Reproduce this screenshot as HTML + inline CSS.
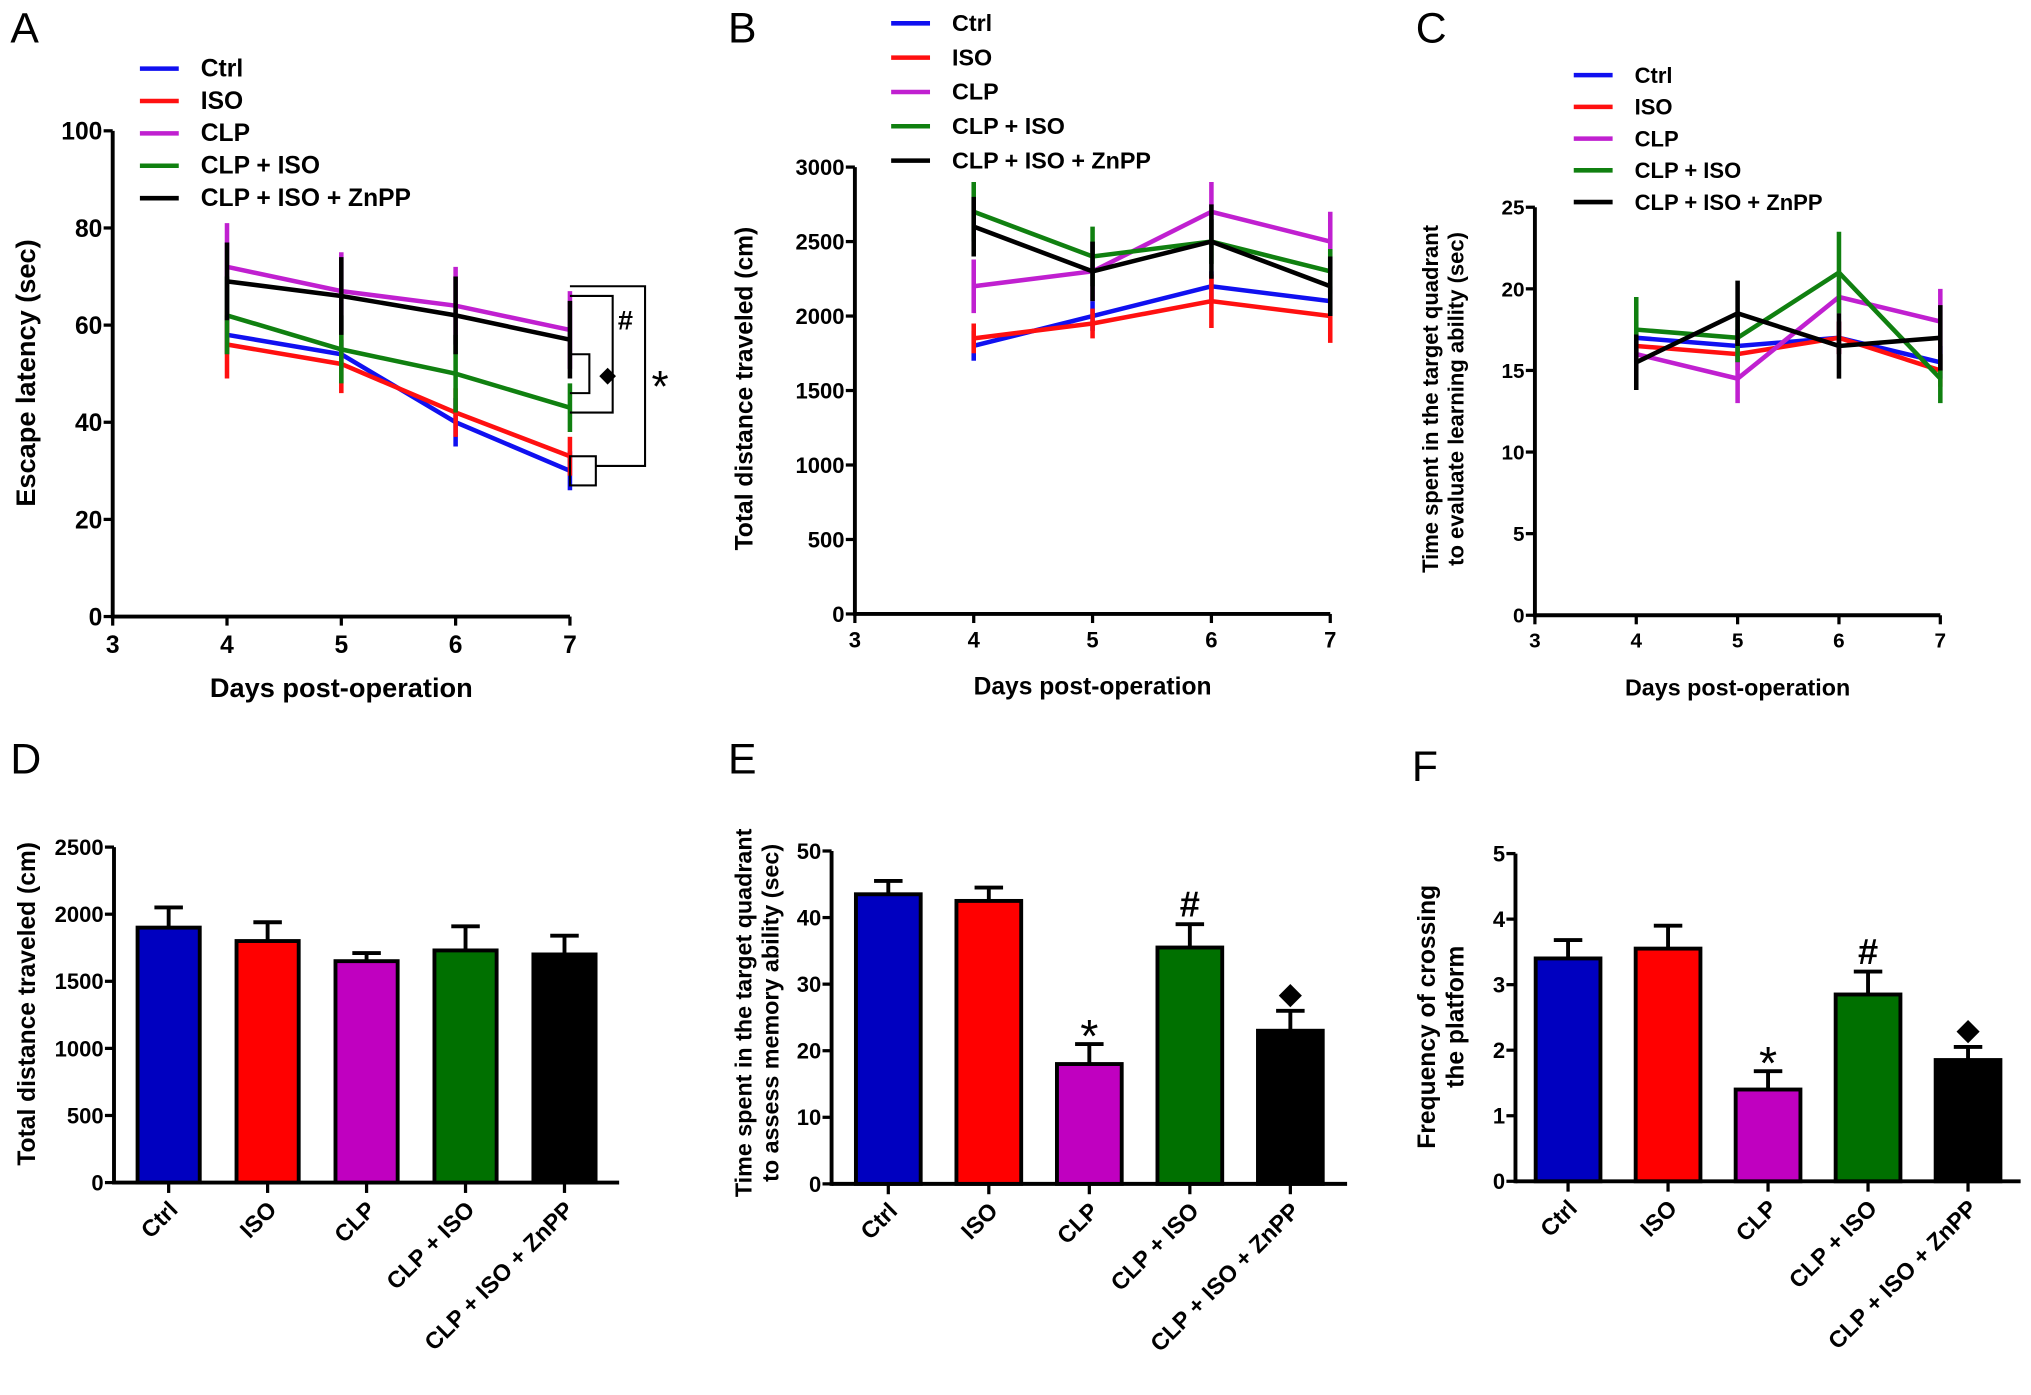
<!DOCTYPE html>
<html><head><meta charset="utf-8"><style>
html,body{margin:0;padding:0;background:#fff;}
svg{display:block;font-family:"Liberation Sans",Arial,sans-serif;font-weight:bold;}
</style></head><body>
<svg id="fig" width="2031" height="1395" viewBox="0 0 1568 1077" xmlns="http://www.w3.org/2000/svg"></svg>
<script>
const NS="http://www.w3.org/2000/svg";
const groups=["Ctrl","ISO","CLP","CLP + ISO","CLP + ISO + ZnPP"];
const lineColors=["#1010f0","#ff1010","#c020d0","#108010","#000000"];
const barColors=["#0000c0","#ff0000","#c000c0","#007000","#000000"];
const days=[4,5,6,7];
// Panel A
const aVals=[[58,54,40,30],[56,52,42,33],[72,67,64,59],[62,55,50,43],[69,66,62,57]];
const aErr=[[4,3,5,4],[7,6,5,4],[9,8,8,8],[8,7,8,5],[8,8,8,8]];
const aTicks=[0,20,40,60,80,100];
// Panel B
const bVals=[[1800,2000,2200,2100],[1850,1950,2100,2000],[2200,2300,2700,2500],[2700,2400,2500,2300],[2600,2300,2500,2200]];
const bErr=[[100,100,100,100],[100,100,180,180],[180,200,200,200],[200,200,150,150],[200,200,250,200]];
const bTicks=[0,500,1000,1500,2000,2500,3000];
// Panel C
const cVals=[[17,16.5,17,15.5],[16.5,16,17,15],[16,14.5,19.5,18],[17.5,17,21,14.5],[15.5,18.5,16.5,17]];
const cErr=[[1,1,1,1],[1,1,1,1],[1,1.5,1,2],[2,1.5,2.5,1.5],[1.7,2,2,2]];
const cTicks=[0,5,10,15,20,25];
const xTicks=[3,4,5,6,7];
// Panel D/E/F
const dVals=[1900,1800,1650,1730,1700];
const dErr=[150,140,60,180,140];
const dTicks=[0,500,1000,1500,2000,2500];
const eVals=[43.5,42.5,18,35.5,23];
const eErr=[2,2,3,3.5,3];
const eTicks=[0,10,20,30,40,50];
const eMarks=["","","*","#","◆"];
const fVals=[3.4,3.55,1.4,2.85,1.85];
const fErr=[0.28,0.35,0.28,0.35,0.2];
const fTicks=[0,1,2,3,4,5];
const fMarks=["","","*","#","◆"];

const svg=document.getElementById('fig');
function el(tag,attrs,parent,text){const e=document.createElementNS(NS,tag);for(const k in attrs)e.setAttribute(k,attrs[k]);if(text!==undefined)e.textContent=text;(parent||svg).appendChild(e);return e;}
function lin(d0,d1,r0,r1){return v=>r0+(v-d0)*(r1-r0)/(d1-d0);}

function yAxis(g,x,y0,y1,ticks,sy,fs){
  const a=el('line',{x1:x,y1:y0+1.5,x2:x,y2:y1,stroke:'#000','stroke-width':3},g);
  
  ticks.forEach(t=>{const y=sy(t);
    el('line',{x1:x-7,y1:y,x2:x,y2:y,stroke:'#000','stroke-width':2.5},g);
    const tx=el('text',{x:x-8,y:y+fs*0.36,'text-anchor':'end','font-size':fs},g,t);
    });
}
function ylabel(g,x,y,lines,fs){
  lines.forEach((s,i)=>{const t=el('text',{x:0,y:0,'text-anchor':'middle','font-size':fs,transform:`translate(${x+i*(fs+3)},${y}) rotate(-90)`},g,s);
    });
}
function panelLetter(x,y,s){const t=el('text',{x:x,y:y,'font-size':33,'font-weight':'normal'},svg,s);}

function linePanel(name,P){
  const g=el('g',{},svg);
  const sx=lin(3,7,P.x0,P.x1), sy=lin(0,P.ymax,P.yb,P.yt);
  yAxis(g,P.x0,P.yb,P.yt,P.ticks,sy,P.fs);
  const xa=el('line',{x1:P.x0,y1:P.yb,x2:P.x1,y2:P.yb,stroke:'#000','stroke-width':3},g);
  
  xTicks.forEach(t=>{const x=sx(t);el('line',{x1:x,y1:P.yb,x2:x,y2:P.yb+7,stroke:'#000','stroke-width':2.5},g);
    const tx=el('text',{x:x,y:P.yb+P.fs+9,'text-anchor':'middle','font-size':P.fs},g,t);});
  const xt=el('text',{x:(P.x0+P.x1)/2,y:P.yb+62,'text-anchor':'middle','font-size':P.tfs},g,'Days post-operation');
  
  P.vals.forEach((ser,i)=>{
    const sg=el('g',{},g);
    ser.forEach((v,j)=>{const x=sx(days[j]);
      const eb=el('line',{x1:x,y1:sy(v-P.err[i][j]),x2:x,y2:sy(v+P.err[i][j]),stroke:lineColors[i],'stroke-width':3.5},sg);
      });
    const pts=ser.map((v,j)=>sx(days[j])+','+sy(v)).join(' ');
    const pl=el('polyline',{points:pts,fill:'none',stroke:lineColors[i],'stroke-width':3.5},sg);
    
  });
  groups.forEach((gname,i)=>{const y=P.legY+i*P.legDy;
    const lg=el('g',{},g);
    el('line',{x1:P.legX,y1:y,x2:P.legX+30,y2:y,stroke:lineColors[i],'stroke-width':3.5},lg);
    el('text',{x:P.legX+47,y:y+6,'font-size':P.lfs},lg,gname);});
  return {g,sx,sy};
}

function barPanel(name,P){
  const g=el('g',{},svg);
  const sy=lin(0,P.ymax,P.yb,P.yt);
  yAxis(g,P.x0,P.yb,P.yt,P.ticks,sy,P.fs);
  const xa=el('line',{x1:P.x0,y1:P.yb,x2:P.xend,y2:P.yb,stroke:'#000','stroke-width':3},g);
  
  const step=(P.xend-P.x0-P.pad)/groups.length;
  P.vals.forEach((v,i)=>{const cx=P.x0+P.pad/2+step*(i+0.5);const w=P.bw;
    const top=sy(v), et=sy(v+P.err[i]);
    const e1=el('line',{x1:cx,y1:top,x2:cx,y2:et,stroke:'#000','stroke-width':3},g);
    el('line',{x1:cx-11,y1:et,x2:cx+11,y2:et,stroke:'#000','stroke-width':3},g);
    const r=el('rect',{x:cx-w/2,y:top,width:w,height:P.yb-top,fill:barColors[i],stroke:'#000','stroke-width':3},g);
    
    el('line',{x1:cx,y1:P.yb,x2:cx,y2:P.yb+8,stroke:'#000','stroke-width':2.5},g);
    const lt=el('text',{x:0,y:0,'text-anchor':'end','font-size':P.lfs,transform:`translate(${cx+8},${P.yb+22}) rotate(-45)`},g,groups[i]);
    
    if(P.marks&&P.marks[i]){const m=P.marks[i];
      const mt=el('text',{x:cx,y:et-(m==='*'?-6:6),'text-anchor':'middle','font-size':m==='*'?36:m==='#'?28:22,'font-weight':m==='*'?'normal':'bold'},g,m);
      }
  });
}

panelLetter(8,33,'A');panelLetter(562,33,'B');panelLetter(1093,33,'C');
panelLetter(8,597,'D');panelLetter(562,597,'E');panelLetter(1090,603,'F');

const A=linePanel('panel-a-escape-latency',{x0:87,x1:440,yb:476,yt:101,ymax:100,ticks:aTicks,vals:aVals,err:aErr,fs:19,tfs:21,lfs:19,legX:108,legY:53,legDy:25});
ylabel(svg,27,288,['Escape latency (sec)'],21);
(function(){const g=el('g',{fill:'none',stroke:'#000','stroke-width':1.6},svg);
  const sy=A.sy, x=440;
  el('polyline',{points:`${x},${sy(54)} ${x+15},${sy(54)} ${x+15},${sy(46)} ${x},${sy(46)}`},g);
  el('polyline',{points:`${x},${sy(66)} ${x+33},${sy(66)} ${x+33},${sy(42)} ${x},${sy(42)}`},g);
  el('polyline',{points:`${x},${sy(68)} ${x+58},${sy(68)} ${x+58},${sy(31)} ${x+20},${sy(31)}`},g);
  el('rect',{x:x,y:sy(33),width:20,height:sy(27)-sy(33)},g);
  const t1=el('text',{x:x+23,y:sy(50)+6,'font-size':16,stroke:'none',fill:'#000'},svg,'◆');
  const t2=el('text',{x:x+37,y:sy(61)+7,'font-size':21,stroke:'none',fill:'#000'},svg,'#');
  const t3=el('text',{x:x+63,y:sy(48)+14,'font-size':34,'font-weight':'normal',stroke:'none',fill:'#000'},svg,'*');
  [t1,t2,t3].forEach(t=>{});
})();

linePanel('panel-b-total-distance',{x0:660,x1:1027,yb:474,yt:129,ymax:3000,ticks:bTicks,vals:bVals,err:bErr,fs:17,tfs:19,lfs:18,legX:688,legY:18,legDy:26.5});
ylabel(svg,581,300,['Total distance traveled (cm)'],19);

linePanel('panel-c-time-target-learning',{x0:1185,x1:1498,yb:475,yt:160,ymax:25,ticks:cTicks,vals:cVals,err:cErr,fs:16,tfs:18,lfs:17,legX:1215,legY:58,legDy:24.5});
ylabel(svg,1110,308,['Time spent in the target quadrant','to evaluate learning ability (sec)'],17);

barPanel('panel-d-total-distance-bars',{x0:88,xend:478,pad:8,bw:48,yb:913,yt:654,ymax:2500,ticks:dTicks,vals:dVals,err:dErr,fs:17,lfs:18});
ylabel(svg,27,775,['Total distance traveled (cm)'],19);
barPanel('panel-e-time-target-memory',{x0:642,xend:1040,pad:10,bw:50,yb:914,yt:657,ymax:50,ticks:eTicks,vals:eVals,err:eErr,fs:17,lfs:18,marks:eMarks});
ylabel(svg,580,782,['Time spent in the target quadrant','to assess memory ability (sec)'],18);
barPanel('panel-f-crossing-frequency',{x0:1170,xend:1560,pad:4,bw:50,yb:912,yt:659,ymax:5,ticks:fTicks,vals:fVals,err:fErr,fs:17,lfs:18,marks:fMarks});
ylabel(svg,1108,785,['Frequency of crossing','the platform'],19);
</script>
</body></html>
